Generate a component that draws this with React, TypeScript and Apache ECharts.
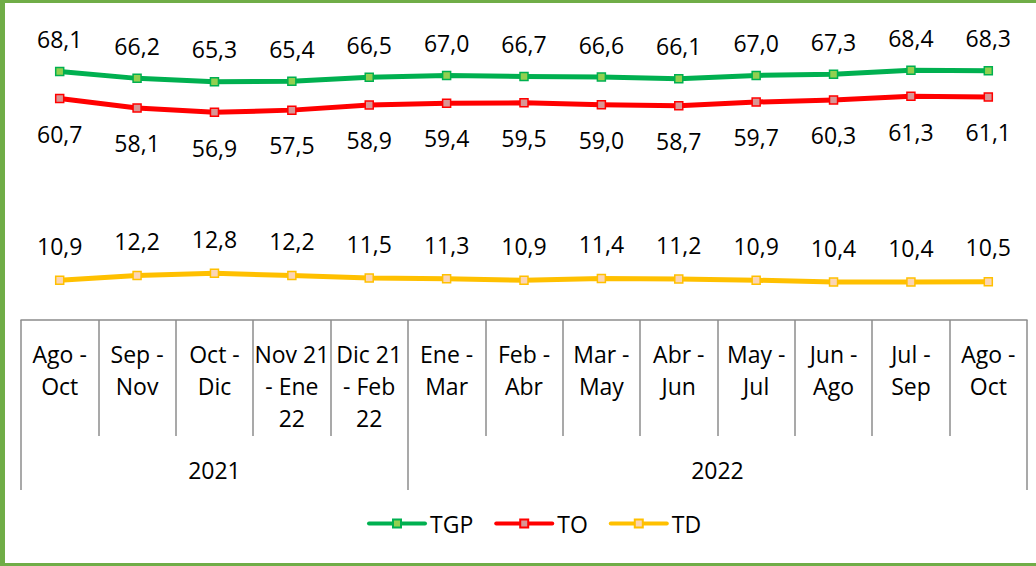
import React, { useEffect, useRef } from "react";
import * as echarts from "echarts";

const categories = [
  "Ago -\nOct",
  "Sep -\nNov",
  "Oct -\nDic",
  "Nov 21\n- Ene\n22",
  "Dic 21\n- Feb\n22",
  "Ene -\nMar",
  "Feb -\nAbr",
  "Mar -\nMay",
  "Abr -\nJun",
  "May -\nJul",
  "Jun -\nAgo",
  "Jul -\nSep",
  "Ago -\nOct",
];
const years = ["2021", "2022"];
const yearBounds = [0, 5, 13];
const yearCenters = [2.5, 9];

const tgp = [68.1, 66.2, 65.3, 65.4, 66.5, 67.0, 66.7, 66.6, 66.1, 67.0, 67.3, 68.4, 68.3];
const to = [60.7, 58.1, 56.9, 57.5, 58.9, 59.4, 59.5, 59.0, 58.7, 59.7, 60.3, 61.3, 61.1];
const td = [10.9, 12.2, 12.8, 12.2, 11.5, 11.3, 10.9, 11.4, 11.2, 10.9, 10.4, 10.4, 10.5];

const FONT = "'Open Sans', sans-serif";
const AXIS_COLOR = "#8c8c8c";

const fmt = (v: number) => v.toFixed(1).replace(".", ",");

function mkSeries(name: string, data: number[], line: string, fill: string, pos: string, dist: number) {
  return {
    name,
    type: "line",
    data,
    xAxisIndex: 0,
    yAxisIndex: 0,
    symbol: "rect",
    symbolSize: 8,
    showAllSymbol: true,
    lineStyle: { color: line, width: 5, cap: "round", join: "round" },
    itemStyle: { color: fill, borderColor: line, borderWidth: 1.5 },
    label: {
      show: true,
      position: pos,
      distance: dist,
      fontFamily: FONT,
      fontSize: 23,
      color: "#000",
      formatter: (p: any) => fmt(p.value),
    },
    emphasis: { disabled: true },
  };
}

export default function App() {
  const ref = useRef<HTMLDivElement>(null);

  useEffect(() => {
    if (!ref.current) return;
    const chart = echarts.init(ref.current, null, { renderer: "svg" });
    chart.setOption({
      animation: false,
      backgroundColor: "#ffffff",
      grid: { left: 21, right: 9, top: 28, bottom: 246 },
      legend: {
        left: 362,
        top: 507,
        itemWidth: 56,
        itemHeight: 10,
        itemGap: 21,
        lineStyle: { width: 4, cap: "round" },
        textStyle: { fontFamily: FONT, fontSize: 23, color: "#000" },
        data: ["TGP", "TO", "TD"],
      },
      xAxis: [
        {
          type: "category",
          data: categories,
          position: "bottom",
          boundaryGap: true,
          axisLine: { show: true, lineStyle: { color: AXIS_COLOR, width: 1.5 } },
          axisTick: { show: true, interval: 0, length: 116, lineStyle: { color: AXIS_COLOR, width: 1.5 } },
          axisLabel: {
            interval: 0,
            margin: 18,
            fontFamily: FONT,
            fontSize: 23,
            lineHeight: 32,
            color: "#000",
            verticalAlign: "top",
          },
          splitLine: { show: false },
        },
        {
          type: "value",
          min: 0,
          max: 13,
          position: "bottom",
          offset: 116,
          axisLine: { show: false },
          axisTick: {
            show: true,
            customValues: yearBounds,
            length: 54,
            lineStyle: { color: AXIS_COLOR, width: 1.5 },
          },
          axisLabel: {
            customValues: yearCenters,
            margin: 22,
            fontFamily: FONT,
            fontSize: 23,
            color: "#000",
            formatter: (v: number) => years[yearCenters.indexOf(v)] ?? "",
          },
          splitLine: { show: false },
        },
      ],
      yAxis: {
        type: "value",
        min: 0,
        max: 80,
        show: false,
        splitLine: { show: false },
      },
      series: [
        mkSeries("TGP", tgp, "#00b050", "#92d050", "top", 16),
        mkSeries("TO", to, "#ff0000", "#d99694", "bottom", 19),
        mkSeries("TD", td, "#ffc000", "#fbd5b5", "top", 18),
      ],
    });
    return () => chart.dispose();
  }, []);

  const border = "#70ad47";
  return (
    <div style={{ position: "absolute", left: 0, top: 0, width: 1036, height: 566, background: "#fff" }}>
      <div ref={ref} style={{ position: "absolute", left: 0, top: 0, width: 1036, height: 566 }} />
      <div style={{ position: "absolute", left: 0, top: 0, width: 1036, height: 3, background: border, pointerEvents: "none" }} />
      <div style={{ position: "absolute", left: 0, top: 0, width: 5, height: 566, background: border, pointerEvents: "none" }} />
      <div style={{ position: "absolute", left: 0, top: 563, width: 1036, height: 3, background: border, pointerEvents: "none" }} />
    </div>
  );
}
